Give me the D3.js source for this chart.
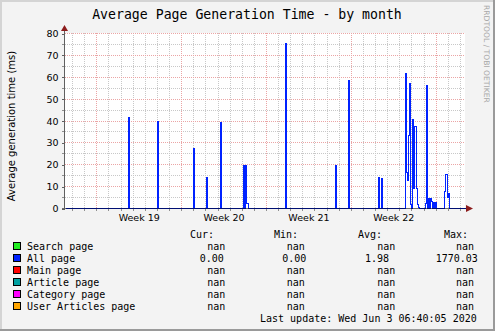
<!DOCTYPE html>
<html><head><meta charset="utf-8">
<script src="https://cdn.jsdelivr.net/npm/d3@7"></script>
<style>
html,body{margin:0;padding:0;background:#f3f3f3;}
svg{display:block;}
</style></head>
<body><svg id="c" width="495" height="331"></svg>
<script>
// ---------- data ----------
const chartTitle = "Average Page Generation Time - by month";
const yLabel = "Average generation time (ms)";
const yTicks = [0, 10, 20, 30, 40, 50, 60, 70, 80];
const weekStarts = ["2020-05-04", "2020-05-11", "2020-05-18", "2020-05-25"];
const weekLabels = ["Week 19", "Week 20", "Week 21", "Week 22"];
const rangeStart = "2020-05-01T10:00";
const rangeEnd = "2020-06-03T10:00";

// "All page" series: step change points (value holds until the next time)
const allPageTimes = [
  "2020-05-01T10:00",
  "2020-05-06T14:00", "2020-05-06T16:00",
  "2020-05-09T01:00", "2020-05-09T03:00",
  "2020-05-12T00:00", "2020-05-12T02:00",
  "2020-05-13T02:00", "2020-05-13T04:00",
  "2020-05-14T04:00", "2020-05-14T06:00",
  "2020-05-16T01:30", "2020-05-16T03:30", "2020-05-16T05:30", "2020-05-16T07:30", "2020-05-16T11:30",
  "2020-05-19T14:30", "2020-05-19T16:30",
  "2020-05-23T17:30", "2020-05-23T19:30",
  "2020-05-24T17:30", "2020-05-24T19:30",
  "2020-05-27T06:30", "2020-05-27T08:30",
  "2020-05-27T12:30", "2020-05-27T14:30",
  "2020-05-29T12:00", "2020-05-29T14:00", "2020-05-29T16:00", "2020-05-29T18:00",
  "2020-05-29T20:00", "2020-05-29T22:00", "2020-05-30T00:00", "2020-05-30T02:00",
  "2020-05-30T04:00", "2020-05-30T06:00", "2020-05-30T08:00", "2020-05-30T10:00",
  "2020-05-30T12:00", "2020-05-30T14:00",
  "2020-05-31T02:00", "2020-05-31T04:00", "2020-05-31T06:00", "2020-05-31T08:00",
  "2020-05-31T10:00", "2020-05-31T12:00", "2020-05-31T14:00", "2020-05-31T16:00",
  "2020-05-31T18:00", "2020-05-31T20:00", "2020-05-31T22:00", "2020-06-01T00:00",
  "2020-06-01T16:00", "2020-06-01T18:00", "2020-06-01T22:00", "2020-06-02T00:00",
  "2020-06-02T02:00",
  "2020-06-03T10:00"
];
const allPageValues = [
  0,
  41.6, 0,
  39.8, 0,
  27.4, 0,
  14.2, 0,
  39.3, 0,
  19.6, 0, 19.6, 2.4, 0,
  75.4, 0,
  19.6, 0,
  58.5, 0,
  14.2, 0,
  13.7, 0,
  61.6, 16.4, 12.8, 33.4,
  57.0, 1.8, 0, 40.5,
  9.3, 37.5, 9.3, 1.8,
  0.6, 0,
  2.4, 56.2, 0, 4.7,
  0, 4.7, 3.3, 0,
  2.9, 0, 2.9, 0,
  7.6, 15.5, 5.2, 7.0,
  0,
  0
];

const legendNames = ["Search page", "All page", "Main page", "Article page", "Category page", "User Articles page"];
const legendColors = ["#22ee22", "#0022ff", "#ff0000", "#00a0a0", "#ff00ff", "#ffa500"];
const curVals = ["nan", "0.00", "nan", "nan", "nan", "nan"];
const minVals = ["nan", "0.00", "nan", "nan", "nan", "nan"];
const avgVals = ["nan", "1.98", "nan", "nan", "nan", "nan"];
const maxVals = ["nan", "1770.03", "nan", "nan", "nan", "nan"];
const statHeaders = ["Cur:", "Min:", "Avg:", "Max:"];
const lastUpdate = "Last update: Wed Jun  3 06:40:05 2020";
const watermark = "RRDTOOL / TOBI OETIKER";

// ---------- drawing ----------
const W = 495, H = 331;
const P = {l: 65, r: 465, t: 33, b: 208};
const parse = d3.utcParse("%Y-%m-%dT%H:%M");
const parseDay = d3.utcParse("%Y-%m-%d");
const svg = d3.select("#c");
const mono = "'DejaVu Sans Mono', monospace";
const sans = "'DejaVu Sans', sans-serif";

svg.append("rect").attr("width", W).attr("height", H).attr("fill", "#f3f3f3");
svg.append("rect").attr("x", 0).attr("y", 0).attr("width", W).attr("height", 2).attr("fill", "#d4d4d4");
svg.append("rect").attr("x", 0).attr("y", 0).attr("width", 2).attr("height", H).attr("fill", "#d4d4d4");
svg.append("rect").attr("x", W - 2).attr("y", 0).attr("width", 2).attr("height", H).attr("fill", "#9a9a9a");
svg.append("rect").attr("x", 0).attr("y", H - 2).attr("width", W).attr("height", 2).attr("fill", "#9a9a9a");

const x = d3.scaleUtc().domain([parse(rangeStart), parse(rangeEnd)]).range([P.l, P.r]);
const y = d3.scaleLinear().domain([0, 80]).range([P.b, P.t]);

svg.append("rect").attr("x", P.l).attr("y", P.t).attr("width", P.r - P.l).attr("height", P.b - P.t).attr("fill", "#ffffff");

const grid = svg.append("g").attr("shape-rendering", "crispEdges");
const days = d3.utcDay.range(x.domain()[0], x.domain()[1]).map(d => +d);
const mondays = d3.utcMonday.range(x.domain()[0], x.domain()[1]).map(d => +d);
days.filter(d => !mondays.includes(d)).forEach(d => {
  const xx = Math.round(x(d)) + 0.5;
  grid.append("line").attr("x1", xx).attr("x2", xx).attr("y1", P.t).attr("y2", P.b)
    .attr("stroke", "#c8c8c8").attr("stroke-dasharray", "1,1");
});
d3.range(5, 80, 10).forEach(v => {
  const yy = Math.round(y(v)) + 0.5;
  grid.append("line").attr("x1", P.l).attr("x2", P.r).attr("y1", yy).attr("y2", yy)
    .attr("stroke", "#c8c8c8").attr("stroke-dasharray", "1,1");
});
yTicks.filter(v => v > 0).forEach(v => {
  const yy = Math.round(y(v)) + 0.5;
  grid.append("line").attr("x1", P.l).attr("x2", P.r).attr("y1", yy).attr("y2", yy)
    .attr("stroke", "#eba5a5").attr("stroke-dasharray", "1,1");
});
mondays.forEach(d => {
  const xx = Math.round(x(d)) + 0.5;
  grid.append("line").attr("x1", xx).attr("x2", xx).attr("y1", P.t).attr("y2", P.b)
    .attr("stroke", "#eba5a5").attr("stroke-dasharray", "1,1");
});

const series = allPageTimes.map((t, i) => ({t: parse(t), v: allPageValues[i]}));
const line = d3.line().x(d => Math.round(x(d.t)) + 0.5).y(d => Math.round(y(d.v)) + 0.5).curve(d3.curveStepAfter);
svg.append("path").datum(series).attr("d", line).attr("fill", "none")
  .attr("stroke", legendColors[1]).attr("stroke-width", 1).attr("shape-rendering", "crispEdges");

const ax = svg.append("g").attr("shape-rendering", "crispEdges");
ax.append("line").attr("x1", P.l - 3).attr("x2", P.r + 2).attr("y1", P.b + 0.5).attr("y2", P.b + 0.5)
  .attr("stroke", "#000").attr("stroke-opacity", 0.55);
ax.append("line").attr("x1", P.l - 0.5).attr("x2", P.l - 0.5).attr("y1", P.b + 2).attr("y2", P.t - 4)
  .attr("stroke", "#606060");
d3.range(5, 80, 10).forEach(v => {
  const yy = Math.round(y(v)) + 0.5;
  ax.append("line").attr("x1", P.l - 3).attr("x2", P.l - 1).attr("y1", yy).attr("y2", yy).attr("stroke", "#909090");
});
days.forEach(d => {
  const xx = Math.round(x(d)) + 0.5;
  ax.append("line").attr("x1", xx).attr("x2", xx).attr("y1", P.b + 1).attr("y2", P.b + 3).attr("stroke", "#909090");
});
svg.append("path").attr("d", `M${P.l - 4},${P.t - 2} L${P.l + 3},${P.t - 2} L${P.l - 0.5},${P.t - 8} Z`).attr("fill", "#8c1c1c");
svg.append("path").attr("d", `M${P.r + 1},${P.b - 3} L${P.r + 1},${P.b + 4} L${P.r + 8},${P.b + 0.5} Z`).attr("fill", "#8c1c1c");

const yAxis = d3.axisLeft(y).tickValues(yTicks).tickSize(3).tickPadding(3).tickFormat(d3.format("d"));
const gy = svg.append("g").attr("transform", `translate(${P.l - 0.5},0.5)`).call(yAxis);
gy.select(".domain").remove();
gy.selectAll(".tick line").attr("stroke", "#606060").attr("shape-rendering", "crispEdges");
gy.selectAll("text").attr("font-family", sans).attr("font-size", "9.5px").attr("fill", "#000");

const weekMid = weekStarts.map(s => d3.utcHour.offset(parseDay(s), 84));
const xAxis = d3.axisBottom(x).tickValues(weekMid).tickSize(0).tickPadding(6)
  .tickFormat((d, i) => weekLabels[i]);
const gx = svg.append("g").attr("transform", `translate(0,${P.b})`).call(xAxis);
gx.select(".domain").remove();
gx.selectAll("text").attr("font-family", sans).attr("font-size", "9.5px").attr("fill", "#000");

svg.append("text").attr("x", 247).attr("y", 18.5).attr("text-anchor", "middle")
  .attr("font-family", mono).attr("font-size", "13.2px").attr("fill", "#000").text(chartTitle);

svg.append("text").attr("transform", "translate(14.5,126) rotate(-90)").attr("text-anchor", "middle")
  .attr("font-family", sans).attr("font-size", "10px").attr("fill", "#000").text(yLabel);

svg.append("text").attr("transform", "translate(483.5,5) rotate(90)")
  .attr("font-family", sans).attr("font-size", "7.6px").attr("fill", "#a8a8a8").text(watermark);

const lg = svg.append("g").attr("font-family", mono).attr("font-size", "10px").attr("fill", "#000")
  .attr("xml:space", "preserve").style("white-space", "pre");
const headerX = [190, 274, 358, 444];
statHeaders.forEach((h, i) => lg.append("text").attr("x", headerX[i]).attr("y", 237.5).text(h));
const rowY = i => 249.5 + i * 12;
const colsNan = [207.3, 286.7, 377.3, 456];
const colsNum = [199.7, 282.3, 365, 435.7];
const cols = [curVals, minVals, avgVals, maxVals];
legendNames.forEach((n, i) => {
  const cy = rowY(i) - 3.8;
  lg.append("rect").attr("x", 13.5).attr("y", Math.round(cy - 4) + 0.5).attr("width", 7).attr("height", 7)
    .attr("fill", legendColors[i]).attr("stroke", "#000").attr("stroke-width", 1).attr("shape-rendering", "crispEdges");
  lg.append("text").attr("x", 27).attr("y", rowY(i)).text(n);
  cols.forEach((arr, c) => {
    const v = arr[i];
    lg.append("text").attr("x", v === "nan" ? colsNan[c] : colsNum[c]).attr("y", rowY(i)).text(v);
  });
});
lg.append("text").attr("x", 260).attr("y", 321.5).text(lastUpdate);
</script>
</body></html>
